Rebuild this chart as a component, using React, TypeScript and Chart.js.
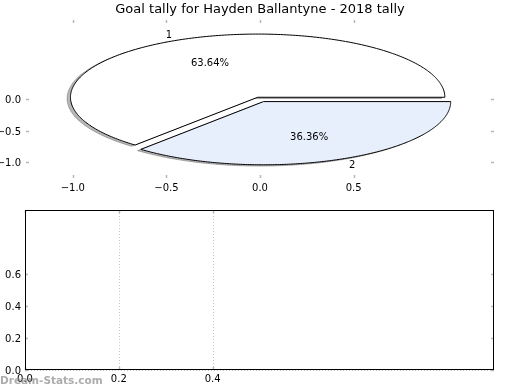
import React, { useEffect, useRef } from "react";
import { Chart, registerables } from "chart.js";

Chart.register(...registerables);

const FONT = "'DejaVu Sans', sans-serif";

// ---- data ----
const chartTitle = "Goal tally for Hayden Ballantyne - 2018 tally";
const sliceLabels = ["1", "2"];
const sliceValues = [7, 4];
const sliceColors = ["#ffffff", "#e8effc"];
const sliceExplode = [0.03, 0.045];
const pieXTicks = [-1.0, -0.5, 0.0, 0.5];
const pieYTicks = [0.0, -0.5, -1.0];
const pieRange = [-1.25, 1.25];
const lowerXTicks = [0.0, 0.2, 0.4];
const lowerYTicks = [0.0, 0.2, 0.4, 0.6];
const lowerGridX = [0.0, 0.2, 0.4];
const lowerRange = [0, 1];
const watermark = "Dream-Stats.com";

const fmt = (v: number) => v.toFixed(1).replace("-", "\u2212");

function drawInwardTicks(chart: any, xVals: number[], yVals: number[]) {
  const { ctx, chartArea: a, scales } = chart;
  ctx.save();
  ctx.strokeStyle = "#b8b8b8";
  ctx.lineWidth = 1.5;
  const len = 3;
  ctx.beginPath();
  xVals.forEach((v) => {
    const x = Math.round(scales.x.getPixelForValue(v)) + 0.5;
    ctx.moveTo(x, a.top);
    ctx.lineTo(x, a.top + len);
    ctx.moveTo(x, a.bottom);
    ctx.lineTo(x, a.bottom - len);
  });
  yVals.forEach((v) => {
    const y = Math.round(scales.y.getPixelForValue(v)) + 0.5;
    ctx.moveTo(a.left, y);
    ctx.lineTo(a.left + len, y);
    ctx.moveTo(a.right, y);
    ctx.lineTo(a.right - len, y);
  });
  ctx.stroke();
  ctx.restore();
}

const piePlugin = {
  id: "ellipsePie",
  afterDraw(chart: any) {
    const { ctx, chartArea: a, scales } = chart;
    const xs = scales.x;
    const ys = scales.y;
    const px = (v: number) => xs.getPixelForValue(v);
    const py = (v: number) => ys.getPixelForValue(v);
    const total = sliceValues.reduce((s, v) => s + v, 0);
    let start = 0;
    const wedges = sliceValues.map((v, i) => {
      const sweep = (v / total) * Math.PI * 2;
      const mid = start + sweep / 2;
      const w = {
        t1: start,
        t2: start + sweep,
        mid,
        cx: sliceExplode[i] * Math.cos(mid),
        cy: sliceExplode[i] * Math.sin(mid),
        value: v,
      };
      start += sweep;
      return w;
    });
    const path = (w: any, ox: number, oy: number) => {
      ctx.beginPath();
      ctx.moveTo(px(w.cx + ox), py(w.cy + oy));
      const n = 240;
      for (let k = 0; k <= n; k++) {
        const t = w.t1 + ((w.t2 - w.t1) * k) / n;
        ctx.lineTo(px(w.cx + ox + Math.cos(t)), py(w.cy + oy + Math.sin(t)));
      }
      ctx.closePath();
    };
    ctx.save();
    // shadows
    wedges.forEach((w) => {
      path(w, -0.018, -0.02);
      ctx.globalAlpha = 0.4;
      ctx.fillStyle = "rgb(77,77,77)";
      ctx.strokeStyle = "rgb(77,77,77)";
      ctx.lineWidth = 1;
      ctx.fill();
      ctx.stroke();
      ctx.globalAlpha = 1;
    });
    // wedges
    wedges.forEach((w, i) => {
      path(w, 0, 0);
      ctx.fillStyle = sliceColors[i];
      ctx.fill();
      ctx.strokeStyle = "#000";
      ctx.lineWidth = 1;
      ctx.lineJoin = "miter";
      ctx.stroke();
    });
    // labels
    ctx.fillStyle = "#000";
    ctx.font = `10px ${FONT}`;
    ctx.textBaseline = "middle";
    wedges.forEach((w, i) => {
      const lx = w.cx + 1.1 * Math.cos(w.mid);
      const ly = w.cy + 1.1 * Math.sin(w.mid);
      ctx.textAlign = lx > 0 ? "left" : "right";
      ctx.fillText(sliceLabels[i], px(lx), py(ly) + 1);
      const tx = w.cx + 0.6 * Math.cos(w.mid);
      const ty = w.cy + 0.6 * Math.sin(w.mid);
      ctx.textAlign = "center";
      ctx.fillText(((w.value / total) * 100).toFixed(2) + "%", px(tx) - 1, py(ty) + 1);
    });
    // title
    ctx.font = `13px ${FONT}`;
    ctx.textAlign = "center";
    ctx.textBaseline = "middle";
    ctx.fillText(chartTitle, (a.left + a.right) / 2, 10);
    ctx.restore();
    drawInwardTicks(chart, pieXTicks, pieYTicks);
  },
};

const lowerPlugin = {
  id: "lowerFrame",
  afterDraw(chart: any) {
    const { ctx, chartArea: a, scales } = chart;
    ctx.save();
    // dotted grid
    ctx.strokeStyle = "#c4c4c4";
    ctx.lineWidth = 1;
    ctx.setLineDash([1, 2]);
    ctx.beginPath();
    lowerGridX.forEach((v) => {
      const x = Math.round(scales.x.getPixelForValue(v)) + 0.5;
      ctx.moveTo(x, a.top);
      ctx.lineTo(x, a.bottom);
    });
    const y0 = Math.round(scales.y.getPixelForValue(lowerRange[0])) + 0.5;
    ctx.moveTo(a.left, y0);
    ctx.lineTo(a.right, y0);
    ctx.stroke();
    ctx.setLineDash([]);
    ctx.restore();
    drawInwardTicks(chart, lowerXTicks, lowerYTicks);
    ctx.save();
    ctx.strokeStyle = "#000";
    ctx.lineWidth = 1;
    ctx.strokeRect(a.left + 0.5, a.top + 0.5, a.right - a.left - 1, a.bottom - a.top - 1);
    // watermark
    ctx.font = `bold 10.5px ${FONT}`;
    ctx.fillStyle = "rgba(128,128,128,0.65)";
    ctx.textAlign = "left";
    ctx.textBaseline = "middle";
    ctx.fillText(watermark, 0, 181);
    ctx.restore();
  },
};

function axis(
  position: string,
  range: number[],
  ticks: number[],
  size: number,
  padding: number
) {
  const horizontal = position === "bottom";
  return {
    type: "linear",
    position,
    min: range[0],
    max: range[1],
    grid: { display: false, drawTicks: false },
    border: { display: false },
    afterBuildTicks: (s: any) => {
      s.ticks = ticks.map((v) => ({ value: v }));
    },
    afterFit: (s: any) => {
      if (horizontal) s.height = size;
      else s.width = size;
    },
    ticks: {
      padding,
      labelOffset: horizontal ? 0 : 1.5,
      color: "#000",
      font: { family: FONT, size: 10 },
      maxRotation: 0,
      autoSkip: false,
      callback: (v: any) => fmt(Number(v)),
    },
  };
}

function useChart(ref: any, config: any) {
  useEffect(() => {
    if (!ref.current) return;
    const c = new Chart(ref.current, config);
    return () => c.destroy();
  }, []);
}

export default function App() {
  const topRef = useRef<HTMLCanvasElement>(null);
  const botRef = useRef<HTMLCanvasElement>(null);

  useChart(topRef, {
    type: "scatter",
    data: { datasets: [{ data: [], showLine: false }] },
    options: {
      responsive: false,
      animation: false,
      events: [],
      layout: { padding: { top: 20, right: 26, left: 0, bottom: 0 } },
      plugins: { legend: { display: false }, tooltip: { enabled: false } },
      scales: {
        x: axis("bottom", pieRange, pieXTicks, 22, 4),
        y: axis("left", pieRange, pieYTicks, 26, 5),
      },
    },
    plugins: [piePlugin],
  });

  useChart(botRef, {
    type: "scatter",
    data: { datasets: [{ data: [], showLine: false }] },
    options: {
      responsive: false,
      animation: false,
      events: [],
      layout: { padding: { top: 10, right: 26, left: 0, bottom: 0 } },
      plugins: { legend: { display: false }, tooltip: { enabled: false } },
      scales: {
        x: axis("bottom", lowerRange, lowerXTicks, 20, 3),
        y: axis("left", lowerRange, lowerYTicks, 25, 4),
      },
    },
    plugins: [lowerPlugin],
  });

  return (
    <div
      style={{
        position: "absolute",
        left: 0,
        top: 0,
        width: 520,
        height: 390,
        background: "#fff",
        overflow: "hidden",
      }}
    >
      <canvas
        ref={topRef}
        width={520}
        height={200}
        style={{ position: "absolute", left: 0, top: 0, display: "block" }}
      />
      <canvas
        ref={botRef}
        width={520}
        height={190}
        style={{ position: "absolute", left: 0, top: 200, display: "block" }}
      />
    </div>
  );
}
